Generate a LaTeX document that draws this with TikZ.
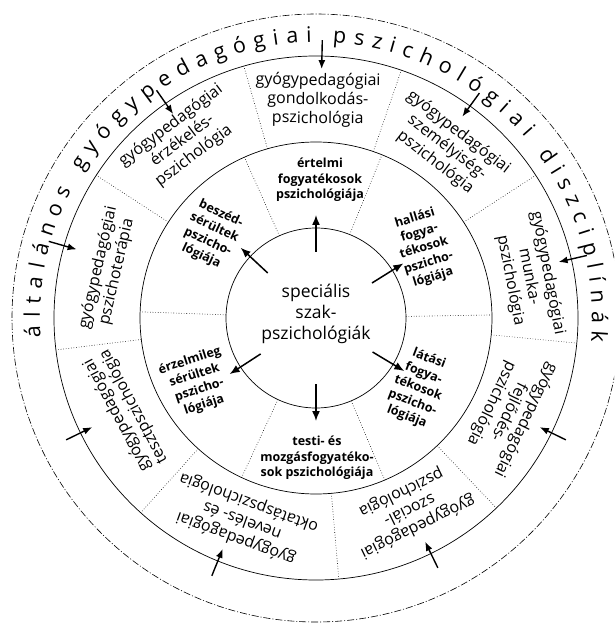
\documentclass[tikz,border=0pt]{standalone}
\usepackage{fontspec}
\setmainfont{Open Sans}
\usetikzlibrary{decorations.text,arrows.meta}
\begin{document}
\begin{tikzpicture}[x=1pt,y=1pt,
  ring/.style={line width=0.7pt},
  outerring/.style={line width=0.6pt, dash pattern=on 7pt off 2pt on 1pt off 2pt},
  divider/.style={line width=0.6pt, dotted},
  arr/.style={line width=1.5pt, -{Latex[length=10pt,width=8pt]}},
  oarr/.style={line width=1.4pt, -{Latex[length=9pt,width=7pt]}},
  midtext/.style={align=center, inner sep=0pt, font=\fontsize{16}{19}\selectfont},
  intext/.style={align=center, inner sep=0pt, font=\bfseries\fontsize{12.5}{15.5}\selectfont},
  centertext/.style={align=center, inner sep=0pt, font=\fontsize{17.5}{21}\selectfont}
]
\fill[white] (-316,-306) rectangle (298,318);
\clip (-316,-306) rectangle (298,318);

% circles
\draw[ring] (0,0) circle[radius=90pt];
\draw[ring] (0,0) circle[radius=176pt];
\draw[ring] (0,0) circle[radius=262pt];
\draw[outerring] (0,0) circle[radius=304pt];

% dividers
\foreach \a in {68,114,178,245,293,1}
  \draw[divider] (\a:90) -- (\a:176);
\foreach \a in {71,106,147,187,228,275,313.5,354.5,33}
  \draw[divider] (\a:176) -- (\a:262);

% inner arrows
\foreach \a [count=\i] in {90,32,-31,-90,-147,137} {
  \coordinate (is\i) at (\a:66);
  \coordinate (ie\i) at (\a:103);
  \draw[arr] (is\i) -- (ie\i);
}

% outer arrows
\foreach \a [count=\i] in {88.7,125,164,206,248,296,334,13,54} {
  \coordinate (os\i) at (\a:278);
  \coordinate (oe\i) at (\a:249);
  \draw[oarr] (os\i) -- (oe\i);
}

% centre
\node[centertext] (center) at (0,4) {speciális\\szak-\\pszichológiák};

% inner ring
\node[intext] (ertelmi) at (4,138) {értelmi\\fogyatékosok\\pszichológiája};
\node[intext, rotate=17] (hallasi) at (108,70) {hallási\\fogya-\\tékosok\\pszicho-\\lógiája};
\node[intext, rotate=-21] (latasi) at (102,-70) {látási\\fogya-\\tékosok\\pszicho-\\lógiája};
\node[intext] (testi) at (1,-140) {testi- és\\mozgásfogyatéko-\\sok pszichológiája};
\node[intext, rotate=18] (erzelmi) at (-119,-65) {érzelmileg\\sérültek\\pszicho-\\lógiája};
\node[intext, rotate=-25] (beszed) at (-105,83) {beszéd-\\sérültek\\pszicho-\\lógiája};

% middle ring
\node[midtext, rotate=-0.5] (gondolkodas) at (89.5:218) {gyógypedagógiai\\gondolkodás-\\pszichológia};
\node[midtext, rotate=37] (erzekeles) at (127:222) {gyógypedagógiai\\érzékelés-\\pszichológia};
\node[midtext, rotate=77] (terapia) at (167:214) {gyógypedagógiai\\pszichoterápia};
\node[midtext, rotate=118] (teszt) at (206:212) {gyógypedagógiai\\tesztpszichológia};
\node[midtext, rotate=160] (neveles) at (250:215) {gyógypedagógiai\\nevelés- és\\oktatáspszichológia};
\node[midtext, rotate=206] (szocial) at (296:213) {gyógypedagógiai\\szociál-\\pszichológia};
\node[midtext, rotate=244] (fejlodes) at (334:214) {gyógypedagógiai\\fejlődés-\\pszichológia};
\node[midtext, rotate=-79] (munka) at (11:217) {gyógypedagógiai\\munka-\\pszichológia};
\node[midtext, rotate=-37.5] (szemelyiseg) at (52.5:215) {gyógypedagógiai\\személyiség-\\pszichológia};

% outer ring text
\path[decorate, decoration={text along path,
  text={|\fontsize{21.5}{21.5}\selectfont|általános gyógypedagógiai pszichológiai diszciplínák},
  text align={fit to path}}]
  (184:276) arc[start angle=184, end angle=-5, radius=276pt];
\end{tikzpicture}
\end{document}
